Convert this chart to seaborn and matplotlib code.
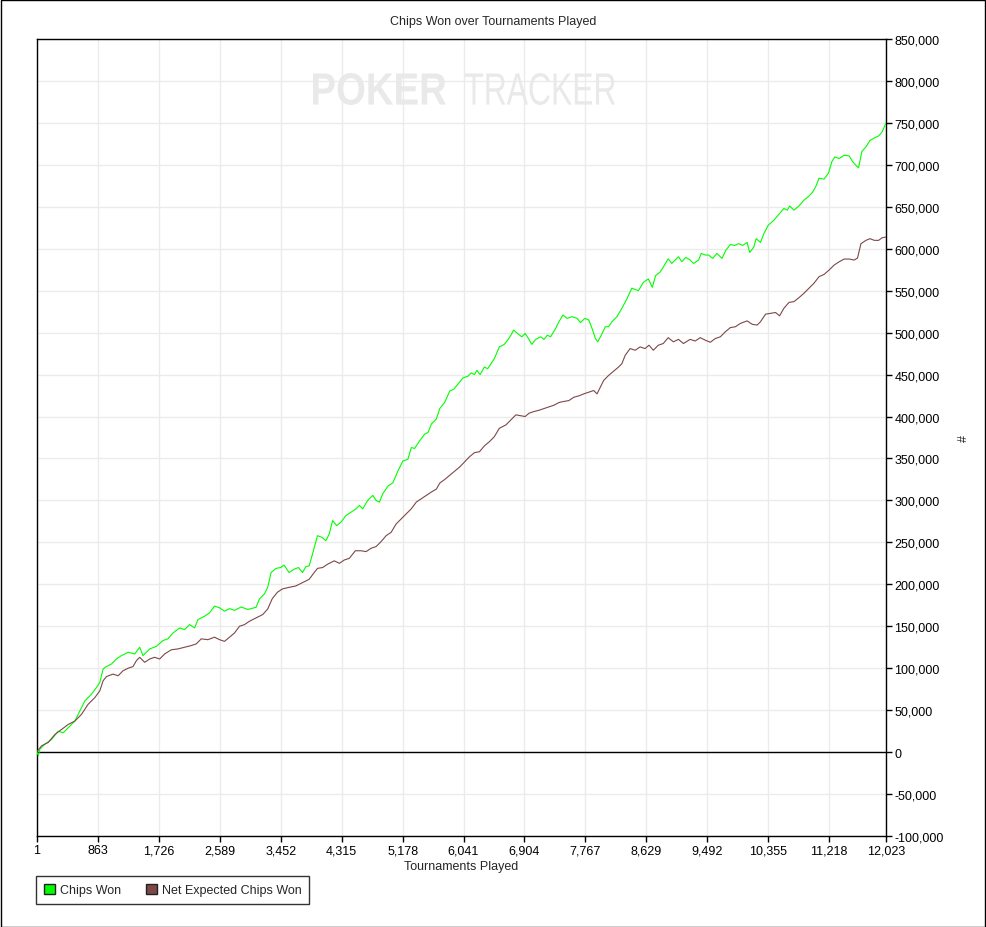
import numpy as np
import pandas as pd
import seaborn as sns
import matplotlib.pyplot as plt
from matplotlib.patches import Patch, Rectangle, PathPatch
from matplotlib.textpath import TextPath
from matplotlib.font_manager import FontProperties
from matplotlib.transforms import Affine2D
from matplotlib.ticker import FuncFormatter

# values (tournament number, chips)
chips_t = [1, 20, 42, 113, 207, 301, 372, 443, 537, 608, 678, 772, 843, 890, 937, 984, 1055, 1126, 1196,
           1291, 1385, 1455, 1502, 1597, 1691, 1785, 1856, 1926, 2021, 2091, 2162, 2233, 2280, 2374, 2444,
           2515, 2586, 2656, 2727, 2798, 2892, 2986, 3103, 3151, 3221, 3268, 3315, 3386, 3452, 3499, 3571,
           3642, 3703, 3760, 3808, 3855, 3902, 3973, 4035, 4092, 4139, 4187, 4244, 4305, 4376, 4447, 4519,
           4566, 4613, 4684, 4756, 4803, 4850, 4898, 4969, 5040, 5111, 5182, 5253, 5301, 5348, 5419, 5490,
           5538, 5585, 5656, 5704, 5775, 5846, 5903, 5941, 6032, 6102, 6149, 6196, 6229, 6276, 6336, 6383,
           6430, 6477, 6548, 6618, 6665, 6712, 6749, 6805, 6866, 6913, 6960, 7007, 7063, 7134, 7181, 7228,
           7274, 7345, 7392, 7448, 7509, 7579, 7650, 7697, 7758, 7814, 7861, 7908, 7940, 7992, 8048, 8095,
           8142, 8213, 8283, 8353, 8424, 8517, 8588, 8658, 8714, 8761, 8822, 8869, 8939, 8990, 9037, 9084,
           9132, 9189, 9250, 9298, 9369, 9407, 9464, 9511, 9568, 9629, 9701, 9757, 9819, 9881, 9938, 9994,
           10056, 10094, 10151, 10184, 10246, 10293, 10355, 10435, 10506, 10577, 10625, 10658, 10720, 10791,
           10862, 10923, 10980, 11028, 11075, 11146, 11208, 11255, 11298, 11360, 11431, 11502, 11549, 11596,
           11634, 11682, 11739, 11796, 11857, 11919, 11966, 12023]
chips_won = [0, -4000, 3500, 9500, 15000, 25000, 23000, 29000, 37000, 49000, 61000, 69000, 77000, 83000,
             99000, 102000, 105000, 111000, 115000, 119000, 117000, 125000, 115000, 123000, 126000, 133000,
             135000, 142000, 148000, 146000, 152000, 148000, 158000, 162000, 166000, 174000, 172000, 168000,
             171000, 169000, 173000, 170000, 172600, 182500, 188500, 196400, 214000, 219000, 220000, 223000,
             214000, 218000, 220000, 214000, 221000, 222000, 236000, 258000, 256000, 252000, 260000, 276000,
             270000, 274000, 282000, 286000, 290000, 294000, 290000, 300000, 306000, 300000, 298000, 308000,
             317000, 321000, 335000, 347000, 349000, 363000, 362000, 371000, 379000, 381000, 391000, 397000,
             409500, 417000, 430500, 432500, 436500, 446000, 448000, 452000, 450000, 455000, 450000, 459000,
             457000, 463000, 469000, 483000, 486000, 491000, 497000, 503000, 499000, 495000, 499000, 493000,
             486000, 492000, 495000, 492000, 497000, 495000, 505000, 513000, 521000, 517000, 519000, 517000,
             512000, 517000, 515000, 505000, 493000, 489000, 497000, 507000, 507000, 513000, 519000, 529000,
             540000, 553000, 550000, 560000, 564000, 554000, 568000, 572000, 578000, 588000, 582500, 586500,
             590500, 584500, 589700, 586500, 582500, 586500, 594400, 592500, 592500, 588500, 594400, 588500,
             598400, 605000, 604000, 606000, 604000, 607500, 595600, 602000, 612000, 607500, 618000, 628000,
             634000, 641000, 648000, 646000, 651000, 646000, 651000, 658000, 662000, 667000, 674000, 684000,
             683000, 690000, 703500, 709500, 707500, 711500, 710700, 704000, 699600, 696400, 716000, 721400,
             729000, 732000, 734500, 739000, 750000]

ev_t = [1, 10, 66, 160, 254, 349, 443, 537, 631, 725, 820, 890, 937, 984, 1079, 1149, 1220, 1291, 1361,
        1408, 1455, 1526, 1597, 1667, 1738, 1809, 1903, 1997, 2091, 2185, 2256, 2327, 2421, 2515, 2586,
        2656, 2727, 2798, 2868, 2939, 3010, 3057, 3103, 3198, 3268, 3333, 3405, 3476, 3571, 3665, 3760,
        3855, 3926, 3973, 4045, 4116, 4210, 4282, 4353, 4424, 4509, 4590, 4661, 4732, 4803, 4874, 4945,
        5016, 5087, 5158, 5230, 5301, 5372, 5443, 5514, 5585, 5656, 5704, 5775, 5846, 5917, 5988, 6045,
        6125, 6196, 6266, 6336, 6407, 6477, 6548, 6641, 6712, 6782, 6852, 6913, 6970, 7040, 7110, 7181,
        7251, 7321, 7392, 7462, 7532, 7603, 7673, 7743, 7814, 7884, 7931, 7978, 8025, 8095, 8166, 8236,
        8283, 8330, 8400, 8471, 8541, 8611, 8667, 8728, 8799, 8869, 8939, 9013, 9084, 9155, 9250, 9321,
        9392, 9464, 9535, 9606, 9677, 9748, 9819, 9890, 9961, 10056, 10127, 10198, 10246, 10317, 10388,
        10459, 10516, 10577, 10649, 10720, 10791, 10862, 10933, 11004, 11075, 11146, 11217, 11288, 11360,
        11431, 11502, 11573, 11620, 11668, 11739, 11796, 11857, 11919, 11966, 12023]
ev_won = [0, 1600, 7500, 11500, 21000, 27000, 33000, 37000, 45000, 57000, 65000, 73000, 85000, 90000,
          93000, 91000, 97000, 100000, 102000, 109000, 113000, 107000, 111000, 113000, 111000, 117000,
          122000, 123000, 125000, 127000, 129000, 135000, 134000, 137000, 134000, 132000, 137000, 142000,
          150000, 152000, 156000, 158000, 160000, 164000, 170600, 183000, 190500, 194500, 196400, 198000,
          202000, 206000, 214000, 219000, 220000, 224000, 228000, 225000, 229000, 231000, 240000, 240000,
          239000, 243000, 245000, 251000, 258000, 262000, 272000, 278000, 284000, 290000, 298000, 302000,
          306000, 310000, 313500, 320600, 325000, 330000, 335000, 340000, 345000, 352000, 357000, 358000,
          365000, 370000, 376000, 386000, 390000, 396000, 402000, 401000, 400000, 404000, 406000, 407500,
          409500, 411500, 413500, 416700, 418000, 419000, 423000, 424600, 427000, 429000, 431000, 427000,
          435000, 443000, 449000, 454000, 459000, 463000, 473000, 481000, 479000, 483000, 481000, 485000,
          479000, 485000, 487000, 494000, 489000, 492000, 487000, 492000, 490000, 494000, 491000, 488500,
          493000, 495000, 501000, 506000, 507000, 511000, 514000, 510000, 509000, 513000, 522000, 523000,
          524000, 520000, 529000, 536000, 537000, 541700, 547000, 553000, 559000, 566700, 569400, 574600,
          580500, 584500, 587700, 587700, 586500, 589000, 606000, 610000, 612000, 610000, 610000, 613000,
          614000]

x_ticks = [1, 863, 1726, 2589, 3452, 4315, 5178, 6041, 6904, 7767, 8629, 9492, 10355, 11218, 12023]

sns.set_style('white')
plt.rcParams['font.family'] = ['Liberation Sans', 'DejaVu Sans']

fig = plt.figure(figsize=(9.86, 9.28), dpi=100)
W, H = 986, 928
ax = fig.add_axes([37 / W, 1 - 837 / H, (886 - 37) / W, (837 - 40) / H])

green = '#00ff00'
brown = '#7d4848'

sns.lineplot(x=chips_t, y=chips_won, ax=ax, color=green, lw=0.8, zorder=3)
sns.lineplot(x=ev_t, y=ev_won, ax=ax, color=brown, lw=0.8, zorder=3)
ax.axhline(0, color='black', lw=1, zorder=2)

ax.set_xlim(1, 12023)
ax.set_ylim(-100000, 850000)
ax.set_xticks(x_ticks)
ax.set_xticklabels([f'{v:,}' for v in x_ticks])
ax.set_yticks(np.arange(-100000, 850001, 50000))
ax.yaxis.set_major_formatter(FuncFormatter(lambda v, p: f'{int(v):,}'))
ax.yaxis.tick_right()
ax.yaxis.set_label_position('right')
ax.tick_params(axis='both', direction='out', length=4, width=1, color='black',
               labelsize=9, pad=2, labelcolor='black')
ax.tick_params(axis='y', left=False, right=True)
ax.tick_params(axis='x', bottom=True)

ax.grid(True, color='#ebebeb', lw=1, zorder=0)
ax.set_axisbelow(True)
for s in ax.spines.values():
    s.set_color('black')
    s.set_linewidth(1)

ax.set_xlabel('Tournaments Played', fontsize=9, labelpad=3)
ax.set_ylabel('#', fontsize=9, labelpad=10, rotation=90)
fig.text(0.5, 1 - 22 / H, 'Chips Won over Tournaments Played', ha='center', va='center', fontsize=9)


# watermark, squeezed into the box it occupies in the reference (pixel coords)
def watermark(txt, weight, x0, x1, y_top, y_bot):
    tp = TextPath((0, 0), txt, size=10, prop=FontProperties(family='Liberation Sans', weight=weight))
    ext = tp.get_extents()
    sx = (x1 - x0) / ext.width / W
    sy = (y_bot - y_top) / ext.height / H
    tr = Affine2D().translate(-ext.x0, -ext.y0).scale(sx, sy).translate(x0 / W, 1 - y_bot / H)
    fig.add_artist(PathPatch(tp, transform=tr + fig.transFigure, fc='#e9e9e9', ec='none', zorder=1))


watermark('POKER', 'bold', 313, 446, 74, 106)
watermark('TRACKER', 'normal', 465, 615, 74, 106)

handles = [Patch(facecolor=green, edgecolor='#222222', lw=1, label='Chips Won'),
           Patch(facecolor=brown, edgecolor='#222222', lw=1, label='Net Expected Chips Won')]
leg = fig.legend(handles=handles, loc='upper left', bbox_to_anchor=(36 / W, 1 - 877 / H), ncol=2,
                 frameon=True, fancybox=False, edgecolor='black', fontsize=9, handlelength=0.9,
                 handleheight=0.9, handletextpad=0.4, columnspacing=2.0, borderpad=0.6, borderaxespad=0)
leg.get_frame().set_linewidth(1)

fig.add_artist(Rectangle((0.5 / W, 0.5 / H), 1 - 1.5 / W, 1 - 1.5 / H, fill=False, ec='black',
                         lw=1, transform=fig.transFigure))

fig.savefig('out.png', dpi=100, facecolor='white')
